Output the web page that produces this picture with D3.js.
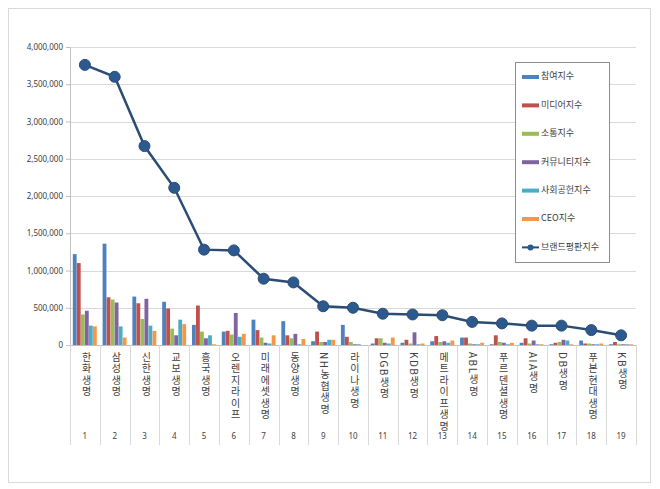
<!DOCTYPE html>
<html><head><meta charset="utf-8">
<script src="https://cdn.jsdelivr.net/npm/d3@7"></script>
<style>body{margin:0;background:#fff;font-family:"Noto Sans CJK KR","Noto Sans",sans-serif}</style>
</head><body><svg id="c" width="660" height="489"></svg>
<script>
const categories=["한화생명","삼성생명","신한생명","교보생명","흥국생명","오렌지라이프","미래에셋생명","동양생명","NH농협생명","라이나생명","DGB생명","KDB생명","메트라이프생명","ABL생명","푸르덴셜생명","AIA생명","DB생명","푸본현대생명","KB생명"];
const seriesNames=["참여지수","미디어지수","소통지수","커뮤니티지수","사회공헌지수","CEO지수"];
const participation=[1220000,1360000,650000,580000,270000,180000,340000,320000,50000,270000,20000,30000,50000,100000,10000,30000,10000,60000,10000];
const media=[1100000,640000,560000,490000,530000,190000,200000,130000,180000,110000,90000,70000,120000,100000,130000,90000,30000,20000,40000];
const communication=[410000,610000,350000,220000,180000,140000,100000,90000,40000,40000,90000,20000,40000,20000,40000,20000,40000,20000,10000];
const community=[460000,570000,620000,130000,90000,430000,30000,150000,40000,10000,30000,170000,50000,10000,30000,60000,70000,10000,10000];
const social=[260000,250000,260000,340000,130000,110000,20000,10000,70000,10000,20000,10000,30000,10000,10000,10000,60000,10000,10000];
const ceo=[250000,100000,190000,280000,10000,150000,130000,80000,70000,0,100000,20000,60000,30000,30000,10000,10000,20000,10000];
const brand=[3760000,3600000,2670000,2110000,1280000,1270000,890000,840000,520000,500000,420000,410000,400000,310000,290000,260000,260000,200000,130000];
const yTicks=[0,500000,1000000,1500000,2000000,2500000,3000000,3500000,4000000];
const series=[participation,media,communication,community,social,ceo];
const colors=["#4F81BD","#C0504D","#9BBB59","#8064A2","#4BACC6","#F79646"];
const lineColor="#2B4C74";

const svg=d3.select("#c");
svg.append("rect").attr("x",8.5).attr("y",8.5).attr("width",642).attr("height",474).attr("fill","#fff").attr("stroke","#d9d9d9");
const L=70,R=636,T=47,B=345;
const x=d3.scaleBand().domain(categories).range([L,R]);
const y=d3.scaleLinear().domain([0,4000000]).range([B,T]);
const xs=d3.scaleBand().domain(d3.range(6)).range([0,x.bandwidth()]).paddingOuter(0.7);

const g=svg.append("g");
g.selectAll(".grid").data(yTicks.slice(1)).join("line").attr("x1",L).attr("x2",R)
 .attr("y1",d=>Math.round(y(d))+.5).attr("y2",d=>Math.round(y(d))+.5).attr("stroke","#d9d9d9");
const ya=svg.append("g").attr("transform",`translate(${L},0)`).call(d3.axisLeft(y).tickValues(yTicks).tickFormat(d3.format(",")).tickSize(4));
ya.select(".domain").attr("stroke","#bfbfbf");
ya.selectAll("line").attr("stroke","#bfbfbf");
ya.selectAll("text").attr("font-size",8).attr("fill","#404040").attr("font-family","Noto Sans");

series.forEach((s,i)=>{
 g.selectAll(".b"+i).data(s).join("rect")
  .attr("x",(d,j)=>x(categories[j])+xs(i)).attr("width",xs.bandwidth()*0.95)
  .attr("y",d=>y(d)).attr("height",d=>B-y(d)).attr("fill",colors[i]);
});
svg.append("line").attr("x1",L).attr("x2",R).attr("y1",B+.5).attr("y2",B+.5).attr("stroke","#bfbfbf");
svg.selectAll(".sep").data(d3.range(20)).join("line")
 .attr("x1",i=>Math.round(L+i*x.step())+.5).attr("x2",i=>Math.round(L+i*x.step())+.5)
 .attr("y1",B).attr("y2",445).attr("stroke","#d9d9d9");
categories.forEach((c,i)=>{
 const cx=x(c)+x.bandwidth()/2;
 svg.append("text").attr("x",cx).attr("y",352).attr("font-size",10).attr("fill","#404040")
  .style("writing-mode","vertical-rl").style("text-orientation","mixed").style("letter-spacing","1.5px").attr("dominant-baseline","middle").text(c);
 svg.append("text").attr("x",cx).attr("y",439).attr("text-anchor","middle").attr("font-size",8).attr("fill","#404040").attr("font-family","Noto Sans").text(i+1);
});
const line=d3.line().x((d,i)=>x(categories[i])+x.bandwidth()/2).y(d=>y(d));
svg.append("path").datum(brand).attr("d",line).attr("fill","none").attr("stroke",lineColor).attr("stroke-width",2.5);
svg.selectAll(".pt").data(brand).join("circle").attr("cx",(d,i)=>x(categories[i])+x.bandwidth()/2).attr("cy",d=>y(d)).attr("r",5.5).attr("fill","#2D5A8E").attr("stroke",lineColor);
const lg=svg.append("g");
lg.append("rect").attr("x",515.5).attr("y",62.5).attr("width",94).attr("height",200).attr("fill","#fff").attr("stroke","#8c8c8c");
seriesNames.forEach((n,i)=>{
 const yy=77+i*28.4;
 lg.append("rect").attr("x",522).attr("y",yy-2).attr("width",17).attr("height",4).attr("fill",colors[i]);
 lg.append("text").attr("x",541).attr("y",yy).attr("dominant-baseline","middle").attr("font-size",9).attr("fill","#404040").text(n);
});
const ly=77+6*28.4;
lg.append("line").attr("x1",522).attr("x2",539).attr("y1",ly).attr("y2",ly).attr("stroke",lineColor).attr("stroke-width",2);
lg.append("circle").attr("cx",530.5).attr("cy",ly).attr("r",3).attr("fill","#2D5A8E");
lg.append("text").attr("x",541).attr("y",ly).attr("dominant-baseline","middle").attr("font-size",9).attr("fill","#404040").text("브랜드평판지수");
</script></body></html>
